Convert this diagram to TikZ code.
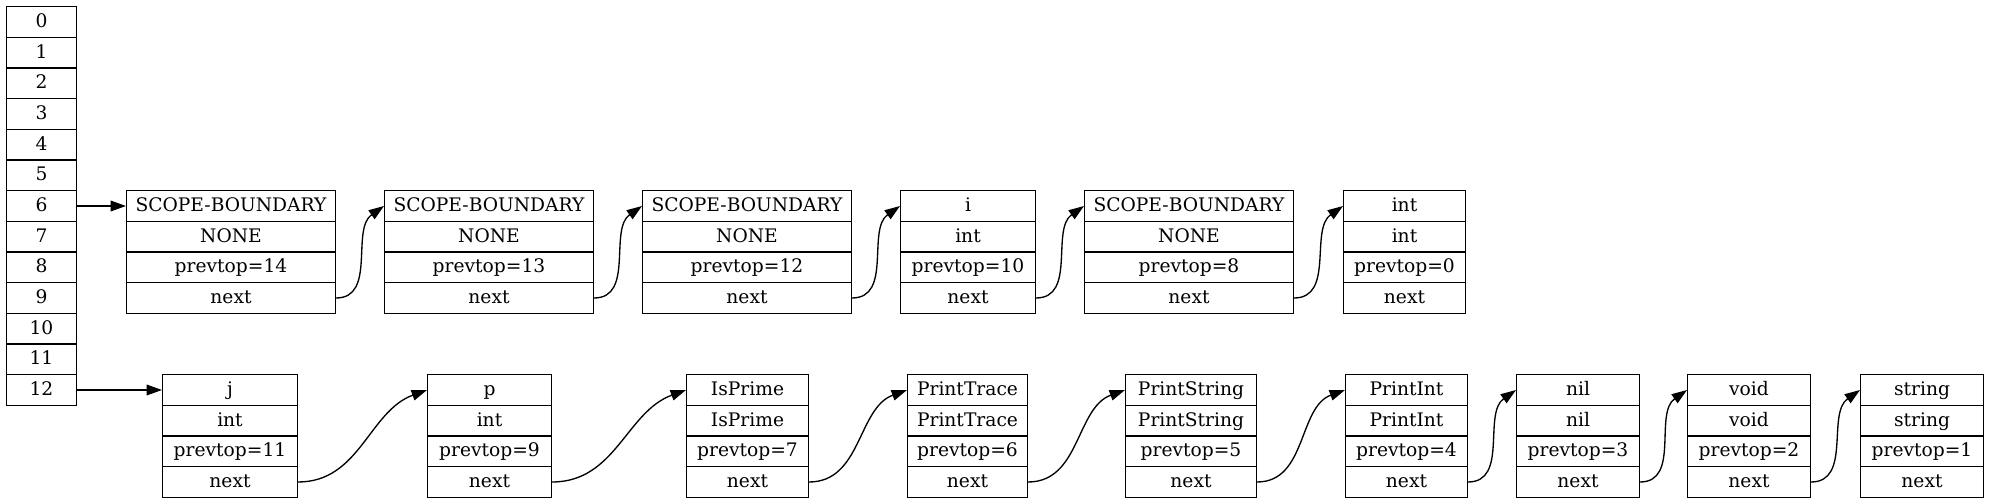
\documentclass[tikz,border=0pt]{standalone}
\usepackage{fontspec}
\setmainfont{DejaVu Serif}
\usetikzlibrary{shapes.multipart,positioning,arrows.meta}

\newcommand{\fieldstrut}{\vrule height12.6pt depth4.4pt width0pt}
\newcommand{\recfields}[4]{\fieldstrut#1\nodepart{two}\fieldstrut#2\nodepart{three}\fieldstrut#3\nodepart{four}\fieldstrut#4}

\begin{document}
\begin{tikzpicture}[x=0.75pt,y=0.75pt,>={Triangle[length=11.5pt,width=8pt]},
                    node distance=36pt,
                    record/.style={rectangle split,rectangle split parts=4,draw,line width=1pt,
                      inner xsep=0pt,inner ysep=2.5pt,align=center,font=\fontsize{14}{17}\selectfont},
                    stack/.style={record,rectangle split parts=13,text width=52.25pt},
                    link/.style={->,line width=1pt}]
  \useasboundingbox (0,0) rectangle (1989,-503);
  % the stack of table slots
  \node[stack] (stack) at (41.5,-206) {\fieldstrut 0\nodepart{two}\fieldstrut 1\nodepart{three}\fieldstrut 2%
    \nodepart{four}\fieldstrut 3\nodepart{five}\fieldstrut 4\nodepart{six}\fieldstrut 5\nodepart{seven}\fieldstrut 6%
    \nodepart{eight}\fieldstrut 7\nodepart{nine}\fieldstrut 8\nodepart{ten}\fieldstrut 9\nodepart{eleven}\fieldstrut 10%
    \nodepart{twelve}\fieldstrut 11\nodepart{thirteen}\fieldstrut 12};
  % upper chain
  \node[record,text width=156.5pt] (sb1) at (231,-252) {\recfields{SCOPE-BOUNDARY}{NONE}{prevtop=14}{next}};
  \node[record,text width=156.5pt] (sb2) [right=of sb1] {\recfields{SCOPE-BOUNDARY}{NONE}{prevtop=13}{next}};
  \node[record,text width=156.5pt] (sb3) [right=of sb2] {\recfields{SCOPE-BOUNDARY}{NONE}{prevtop=12}{next}};
  \node[record,text width=101pt] (vi) [right=of sb3] {\recfields{i}{int}{prevtop=10}{next}};
  \node[record,text width=156.5pt] (sb4) [right=of vi] {\recfields{SCOPE-BOUNDARY}{NONE}{prevtop=8}{next}};
  \node[record,text width=91.25pt] (tint) [right=36.75pt of sb4] {\recfields{int}{int}{prevtop=0}{next}};
  % lower chain
  \node[record,text width=101pt] (vj) at (230,-436) {\recfields{j}{int}{prevtop=11}{next}};
  \node[record,text width=92.75pt] (vp) [right=96.75pt of vj] {\recfields{p}{int}{prevtop=9}{next}};
  \node[record,text width=91.25pt] (isprime) [right=100.5pt of vp] {\recfields{IsPrime}{IsPrime}{prevtop=7}{next}};
  \node[record,text width=89.75pt] (printtrace) [right=73.5pt of isprime] {\recfields{PrintTrace}{PrintTrace}{prevtop=6}{next}};
  \node[record,text width=98pt] (printstring) [right=72.75pt of printtrace] {\recfields{PrintString}{PrintString}{prevtop=5}{next}};
  \node[record,text width=91.25pt] (printint) [right=66pt of printstring] {\recfields{PrintInt}{PrintInt}{prevtop=4}{next}};
  \node[record,text width=92pt] (tnil) [right=of printint] {\recfields{nil}{nil}{prevtop=3}{next}};
  \node[record,text width=92pt] (tvoid) [right=35.25pt of tnil] {\recfields{void}{void}{prevtop=2}{next}};
  \node[record,text width=92pt] (tstring) [right=36.75pt of tvoid] {\recfields{string}{string}{prevtop=1}{next}};
  % links
  \draw[link] (stack.seven east) -- (sb1.text west);
  \draw[link] (stack.thirteen east) -- (vj.text west);
  \foreach \a/\b in {sb1/sb2,sb2/sb3,sb3/vi,vi/sb4,sb4/tint,printint/tnil,tnil/tvoid,tvoid/tstring}
    \draw[link] (\a.four east) to[out=0,in=215] (\b.text west);
  \foreach \a/\b in {vj/vp,vp/isprime,isprime/printtrace,printtrace/printstring,printstring/printint}
    \draw[link] (\a.four east) to[out=0,in=200] (\b.text west);
\end{tikzpicture}
\end{document}
